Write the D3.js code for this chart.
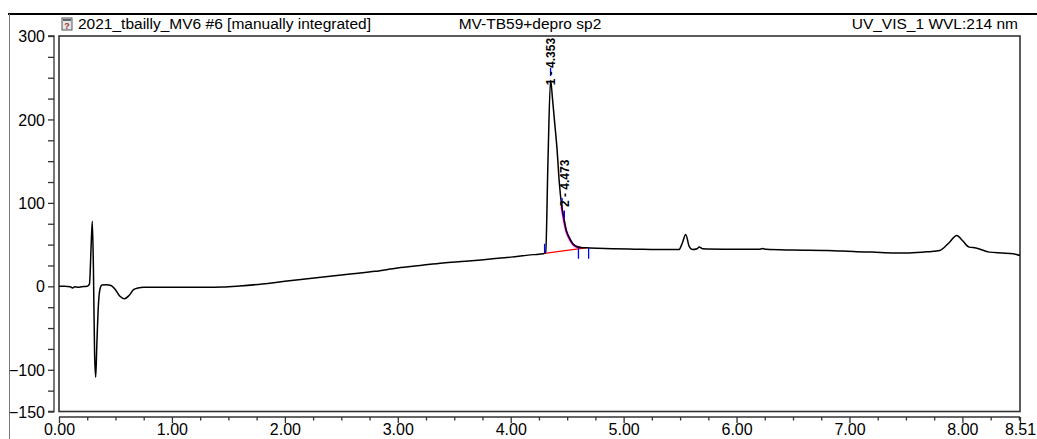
<!DOCTYPE html>
<html><head><meta charset="utf-8">
<script src="https://cdn.jsdelivr.net/npm/d3@7"></script>
<style>body{margin:0;background:#fff}svg{display:block;font-family:"Liberation Sans",Arial,sans-serif}</style>
</head><body><svg id="c" width="1037" height="439"></svg>
<script>
// ---- data ----
const times = [0.00,0.05,0.10,0.12,0.14,0.17,0.20,0.25,0.27,0.285,0.295,0.305,0.315,0.325,0.335,0.35,0.365,0.38,0.42,0.46,0.50,0.54,0.58,0.62,0.66,0.70,0.75,0.90,1.10,1.30,1.45,1.60,1.80,2.00,2.20,2.40,2.60,2.80,3.00,3.20,3.40,3.60,3.80,4.00,4.20,4.29,4.31,4.33,4.353,4.37,4.39,4.41,4.43,4.45,4.47,4.49,4.52,4.55,4.58,4.62,4.70,4.90,5.10,5.30,5.49,5.52,5.55,5.58,5.61,5.65,5.67,5.70,5.90,6.20,6.23,6.26,6.50,6.80,7.06,7.20,7.40,7.53,7.70,7.80,7.88,7.95,8.00,8.06,8.12,8.24,8.35,8.45,8.51];
const signal = [0,0,-0.5,-2,-0.5,-1,-0.5,0,3,50,78,20,-80,-109,-70,-20,-2,1.5,2,1,-4,-12,-15,-11,-4,-2,-1,-1,-1,-1,-0.8,0.4,2.8,6,9,12,15,18,22,25,28,30,32.5,35,38,39,41,150,247,225,195,165,125,98,82,68,58,51,48,46.5,46,45,44.5,44,44,52,62,48,44,45,47,45,44.5,44.3,45.3,44.3,43.5,43,41.5,41,40,40,41.5,43,52,61,55,47,46,41,40,39,37];
const fitTimes = [4.45,4.47,4.49,4.52,4.55,4.58,4.62];
const fitValues = [96,80,67,57,50.5,47.5,46.5];
const baseTimes = [4.30,4.68];
const baseValues = [39.5,46.5];
const peakLabels = ["1 - 4.353","2 - 4.473"];
const peakTimes = [4.353,4.473];
const markTimes = [4.30,4.60,4.69];
const yMajor = [300,200,100,0,-100,-150];
const xMajor = [0,1,2,3,4,5,6,7,8,8.51];
const titleLeft = "2021_tbailly_MV6 #6 [manually integrated]";
const titleMid = "MV-TB59+depro sp2";
const titleRight = "UV_VIS_1 WVL:214 nm";

// ---- layout ----
const svg = d3.select("#c");
const L = 59, R = 1020, T = 36, B = 411.5;
const x = d3.scaleLinear().domain([0, 8.51]).range([L, R]);
const y = d3.scaleLinear().domain([-150, 300]).range([B, T]);

// frame
svg.append("line").attr("x1",8).attr("x2",1037).attr("y1",14).attr("y2",14).attr("stroke","#000").attr("stroke-width",2);
svg.append("line").attr("x1",9.5).attr("x2",9.5).attr("y1",14).attr("y2",439).attr("stroke","#777").attr("stroke-width",1);

// header
const ic = svg.append("g").attr("transform","translate(62,18)");
ic.append("rect").attr("width",10).attr("height",12).attr("fill","#dfe6ee").attr("stroke","#555").attr("stroke-width",1);
ic.append("rect").attr("x",1).attr("y",1).attr("width",8).attr("height",2).attr("fill","#666");
ic.append("text").attr("x",5).attr("y",11).attr("text-anchor","middle").attr("font-size",9).attr("font-weight","bold").attr("fill","#b03020").text("?");
svg.append("text").attr("x",78).attr("y",29).attr("font-size",15.5).text(titleLeft);
svg.append("text").attr("x",530).attr("y",29).attr("text-anchor","middle").attr("font-size",15.5).text(titleMid);
svg.append("text").attr("x",1018).attr("y",29).attr("text-anchor","end").attr("font-size",15.5).text(titleRight);

// plot box
svg.append("rect").attr("x",L).attr("y",T).attr("width",R-L).attr("height",B-T).attr("fill","none").attr("stroke","#333").attr("stroke-width",1.6);

// y axis
const yAxis = d3.axisLeft(y).tickValues(d3.range(-150, 301, 25)).tickSize(6)
  .tickFormat(d => yMajor.includes(d) ? d3.format("d")(d) : "");
const gy = svg.append("g").attr("transform","translate(54,0)").call(yAxis);
gy.select(".domain").attr("d", `M-6,${T}H0V${B}H-6`).attr("stroke","#333").attr("stroke-width",1.3);
gy.selectAll(".tick line").attr("stroke","#333").attr("stroke-width",1.3);
gy.selectAll(".tick text").attr("font-size",16).attr("font-family","Liberation Sans, Arial, sans-serif").attr("fill","#000").attr("x",-9).attr("dy","0.35em");

// x axis
const xTicks = d3.range(0, 8.51, 0.25).concat([8.51]);
const xAxis = d3.axisBottom(x).tickValues(xTicks).tickSize(6)
  .tickFormat(d => xMajor.some(m => Math.abs(m-d)<1e-9) ? d3.format(".2f")(d) : "");
const gx = svg.append("g").attr("transform","translate(0,417)").call(xAxis);
gx.select(".domain").attr("d", `M${L},0H${R}`).attr("stroke","#333").attr("stroke-width",1.3);
gx.selectAll(".tick line").attr("stroke","#333").attr("stroke-width",1.3)
  .attr("y2", d => xMajor.some(m => Math.abs(m-d)<1e-9) ? 6 : 3.5);
gx.selectAll(".tick text").attr("font-size",16).attr("font-family","Liberation Sans, Arial, sans-serif").attr("fill","#000").attr("y",7);

// fitted tail (magenta) under trace
const line = d3.line().x(d=>x(d[0])).y(d=>y(d[1])).curve(d3.curveMonotoneX);
svg.append("path").datum(d3.zip(fitTimes, fitValues)).attr("d", line).attr("fill","none").attr("stroke","#ff00ff").attr("stroke-width",2.2);

// baseline (red)
svg.append("path").datum(d3.zip(baseTimes, baseValues)).attr("d", d3.line().x(d=>x(d[0])).y(d=>y(d[1]))).attr("fill","none").attr("stroke","#ff0000").attr("stroke-width",1.3);

// trace
svg.append("path").datum(d3.zip(times, signal)).attr("d", line).attr("fill","none").attr("stroke","#000").attr("stroke-width",1.5).attr("stroke-linejoin","round");

// integration markers (blue)
const mk = svg.append("g").attr("stroke","#0000ff").attr("stroke-width",1.3);
mk.append("line").attr("x1",x(markTimes[0])).attr("x2",x(markTimes[0])).attr("y1",y(51)).attr("y2",y(40));
mk.append("line").attr("x1",x(markTimes[1])).attr("x2",x(markTimes[1])).attr("y1",y(46)).attr("y2",y(33));
mk.append("line").attr("x1",x(markTimes[2])).attr("x2",x(markTimes[2])).attr("y1",y(46)).attr("y2",y(33));
mk.append("line").attr("x1",x(peakTimes[0])).attr("x2",x(peakTimes[0])).attr("y1",y(262)).attr("y2",y(252));
mk.append("line").attr("x1",x(4.455)).attr("x2",x(4.455)).attr("y1",y(106)).attr("y2",y(98));
mk.append("line").attr("x1",x(4.475)).attr("x2",x(4.475)).attr("y1",y(91)).attr("y2",y(82));

// peak labels
svg.append("text").attr("transform",`translate(${x(peakTimes[0])+4.5},${y(241)}) rotate(-90)`)
  .attr("font-size",12).attr("font-weight","bold").text(peakLabels[0]);
svg.append("text").attr("transform",`translate(${x(peakTimes[1])+5},${y(95)}) rotate(-90)`)
  .attr("font-size",12).attr("font-weight","bold").text(peakLabels[1]);
</script></body></html>
